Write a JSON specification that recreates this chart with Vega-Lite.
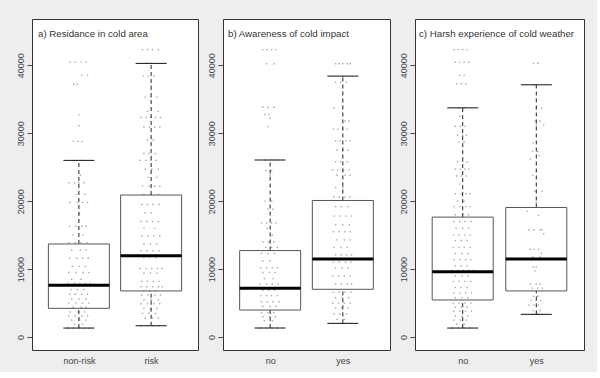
{
"$schema":"https://vega.github.io/schema/vega-lite/v6.json",
"background":"#eeeeee",
"padding":{"left":15,"top":18,"right":12,"bottom":6},
"spacing":7,
"config":{"font":"Liberation Sans","view":{"stroke":"#333333","strokeWidth":1,"fill":"white"},"axis":{"labelColor":"#444444","tickColor":"#444444","labelFont":"Liberation Sans"},"square":{"size":2,"color":"#9a9a9a","opacity":0.85},"tick":{"opacity":1},"rule":{"opacity":1}},
"datasets":{
"a1":[{"v":40460,"j":0.88},{"v":40460,"j":0.95},{"v":40460,"j":1.03},{"v":40460,"j":1.1},{"v":38500,"j":1.04},{"v":38500,"j":1.12},{"v":37200,"j":0.93},{"v":37200,"j":0.98},{"v":32700,"j":1.0},{"v":31100,"j":1.0},{"v":28800,"j":0.92},{"v":28800,"j":0.99},{"v":28800,"j":1.04},
{"v":26000,"j":0.93},{"v":26000,"j":1.03},{"v":23800,"j":1.02},{"v":22700,"j":0.86},{"v":22700,"j":0.94},{"v":22700,"j":1.0},{"v":22700,"j":1.07},{"v":21000,"j":0.96},{"v":21000,"j":1.08},{"v":19800,"j":0.88},{"v":19800,"j":0.98},{"v":19800,"j":1.05},{"v":19800,"j":1.12},{"v":18200,"j":1.01},{"v":16300,"j":0.87},{"v":16300,"j":0.96},{"v":16300,"j":1.04},{"v":16300,"j":1.1},{"v":15000,"j":0.92},{"v":15000,"j":1.06},{"v":13900,"j":0.86},{"v":13900,"j":0.95},{"v":13900,"j":1.03},{"v":13900,"j":1.11},
{"v":12800,"j":0.9},{"v":12800,"j":1.02},{"v":12800,"j":1.1},{"v":11600,"j":0.87},{"v":11600,"j":0.97},{"v":11600,"j":1.05},{"v":11600,"j":1.13},{"v":10400,"j":0.91},{"v":10400,"j":1.0},{"v":10400,"j":1.09},{"v":9500,"j":0.86},{"v":9500,"j":0.96},{"v":9500,"j":1.06},{"v":9500,"j":1.14},{"v":8500,"j":0.9},{"v":8500,"j":1.03},{"v":7900,"j":0.85},{"v":7900,"j":0.94},{"v":7900,"j":1.01},{"v":7900,"j":1.09},{"v":7900,"j":1.15},{"v":7000,"j":0.89},{"v":7000,"j":0.98},{"v":7000,"j":1.07},{"v":6300,"j":0.87},{"v":6300,"j":0.95},{"v":6300,"j":1.04},{"v":6300,"j":1.12},{"v":5600,"j":0.9},{"v":5600,"j":1.0},{"v":5600,"j":1.1},{"v":5000,"j":0.86},{"v":5000,"j":0.96},{"v":5000,"j":1.05},{"v":5000,"j":1.14},{"v":4400,"j":0.92},{"v":4400,"j":1.03},{"v":4400,"j":1.1},
{"v":3700,"j":0.88},{"v":3700,"j":0.99},{"v":3700,"j":1.08},{"v":3100,"j":0.86},{"v":3100,"j":0.95},{"v":3100,"j":1.04},{"v":3100,"j":1.12},{"v":2500,"j":0.9},{"v":2500,"j":1.01},{"v":2500,"j":1.1},{"v":1900,"j":0.94},{"v":1900,"j":1.05},{"v":1330,"j":0.85},{"v":1330,"j":0.93},{"v":1330,"j":1.0},{"v":1330,"j":1.08},{"v":1330,"j":1.15}],
"a2":[{"v":42300,"j":1.88},{"v":42300,"j":1.95},{"v":42300,"j":2.02},{"v":42300,"j":2.1},{"v":40270,"j":1.94},{"v":40270,"j":2.0},{"v":38400,"j":1.89},{"v":38400,"j":1.96},{"v":38400,"j":2.04},{"v":37000,"j":2.0},{"v":35300,"j":1.92},{"v":35300,"j":2.0},{"v":35300,"j":2.08},{"v":33200,"j":1.95},{"v":33200,"j":2.1},{"v":32300,"j":1.86},{"v":32300,"j":1.93},{"v":32300,"j":2.0},{"v":32300,"j":2.06},{"v":32300,"j":2.13},{"v":30900,"j":1.9},{"v":30900,"j":1.98},{"v":30900,"j":2.05},{"v":30900,"j":2.12},{"v":29000,"j":1.95},{"v":29000,"j":2.03},{"v":27000,"j":1.9},{"v":27000,"j":1.97},{"v":27000,"j":2.06},{"v":26000,"j":1.85},{"v":26000,"j":1.93},{"v":26000,"j":2.0},{"v":26000,"j":2.07},{"v":24700,"j":1.92},{"v":24700,"j":2.01},{"v":24700,"j":2.1},{"v":23500,"j":1.96},{"v":23500,"j":2.08},{"v":22200,"j":1.88},{"v":22200,"j":1.97},{"v":22200,"j":2.05},{"v":22200,"j":2.12},{"v":21000,"j":1.9},{"v":21000,"j":2.0},{"v":21000,"j":2.1},
{"v":19500,"j":1.87},{"v":19500,"j":1.95},{"v":19500,"j":2.03},{"v":19500,"j":2.11},{"v":18300,"j":1.92},{"v":18300,"j":2.0},{"v":17000,"j":1.86},{"v":17000,"j":1.94},{"v":17000,"j":2.02},{"v":17000,"j":2.1},{"v":16000,"j":1.9},{"v":16000,"j":2.05},{"v":14900,"j":1.87},{"v":14900,"j":1.96},{"v":14900,"j":2.04},{"v":14900,"j":2.12},{"v":13700,"j":1.9},{"v":13700,"j":1.99},{"v":13700,"j":2.08},{"v":12700,"j":1.86},{"v":12700,"j":1.94},{"v":12700,"j":2.03},{"v":12700,"j":2.11},{"v":11700,"j":1.9},{"v":11700,"j":1.98},{"v":11700,"j":2.07},{"v":10100,"j":1.85},{"v":10100,"j":1.93},{"v":10100,"j":2.01},{"v":10100,"j":2.09},{"v":10100,"j":2.15},{"v":9400,"j":1.9},{"v":9400,"j":1.99},{"v":9400,"j":2.08},{"v":8200,"j":1.87},{"v":8200,"j":1.95},{"v":8200,"j":2.03},{"v":8200,"j":2.11},{"v":7400,"j":1.86},{"v":7400,"j":1.94},{"v":7400,"j":2.02},{"v":7400,"j":2.1},{"v":7400,"j":2.15},{"v":6800,"j":1.9},{"v":6800,"j":1.98},{"v":6800,"j":2.06},
{"v":6200,"j":1.87},{"v":6200,"j":1.96},{"v":6200,"j":2.05},{"v":6200,"j":2.13},{"v":5500,"j":1.9},{"v":5500,"j":2.0},{"v":5500,"j":2.1},{"v":4900,"j":1.86},{"v":4900,"j":1.95},{"v":4900,"j":2.04},{"v":4900,"j":2.12},{"v":4200,"j":1.9},{"v":4200,"j":1.99},{"v":4200,"j":2.08},{"v":3500,"j":1.88},{"v":3500,"j":1.97},{"v":3500,"j":2.06},{"v":2800,"j":1.92},{"v":2800,"j":2.02},{"v":2800,"j":2.1},{"v":1670,"j":1.86},{"v":1670,"j":1.95},{"v":1670,"j":2.03},{"v":1670,"j":2.11}],
"b1":[{"v":42300,"j":0.9},{"v":42300,"j":0.96},{"v":42300,"j":1.02},{"v":42300,"j":1.08},{"v":40220,"j":0.95},{"v":40220,"j":1.05},{"v":33820,"j":0.9},{"v":33820,"j":0.97},{"v":33820,"j":1.05},{"v":32740,"j":0.93},{"v":32740,"j":0.98},{"v":32200,"j":1.0},{"v":30970,"j":0.97},{"v":26060,"j":0.93},{"v":26060,"j":1.0},{"v":26060,"j":1.05},{"v":26060,"j":1.1},{"v":24500,"j":0.94},{"v":24500,"j":1.02},{"v":23800,"j":1.0},{"v":20000,"j":0.93},{"v":20000,"j":1.02},{"v":18800,"j":0.97},{"v":18800,"j":1.04},{"v":16800,"j":0.88},{"v":16800,"j":0.95},{"v":16800,"j":1.02},{"v":16800,"j":1.08},{"v":16000,"j":0.96},{"v":15000,"j":1.03},{"v":14000,"j":0.9},{"v":14000,"j":0.98},{"v":14000,"j":1.05},{"v":13200,"j":0.94},{"v":13200,"j":1.02},{"v":13200,"j":1.1},
{"v":12300,"j":0.88},{"v":12300,"j":0.97},{"v":12300,"j":1.06},{"v":11200,"j":0.9},{"v":11200,"j":1.0},{"v":10200,"j":0.87},{"v":10200,"j":0.95},{"v":10200,"j":1.03},{"v":10200,"j":1.1},{"v":9500,"j":0.9},{"v":9500,"j":0.99},{"v":9500,"j":1.07},{"v":8600,"j":0.92},{"v":8600,"j":1.04},{"v":7800,"j":0.86},{"v":7800,"j":0.95},{"v":7800,"j":1.03},{"v":7800,"j":1.11},{"v":6900,"j":0.9},{"v":6900,"j":0.98},{"v":6900,"j":1.06},{"v":6100,"j":0.87},{"v":6100,"j":0.95},{"v":6100,"j":1.02},{"v":6100,"j":1.1},{"v":5200,"j":0.88},{"v":5200,"j":0.96},{"v":5200,"j":1.04},{"v":5200,"j":1.12},{"v":4500,"j":0.9},{"v":4500,"j":1.0},{"v":4500,"j":1.08},
{"v":3600,"j":0.88},{"v":3600,"j":0.97},{"v":3600,"j":1.05},{"v":3000,"j":0.9},{"v":3000,"j":0.99},{"v":3000,"j":1.07},{"v":2400,"j":0.92},{"v":2400,"j":1.03},{"v":1330,"j":0.87},{"v":1330,"j":0.95},{"v":1330,"j":1.03},{"v":1330,"j":1.1}],
"b2":[{"v":40220,"j":1.9},{"v":40220,"j":1.95},{"v":40220,"j":2.0},{"v":40220,"j":2.06},{"v":40220,"j":2.1},{"v":38400,"j":2.0},{"v":37500,"j":1.9},{"v":37500,"j":1.97},{"v":37500,"j":2.05},{"v":33700,"j":1.88},{"v":31800,"j":2.03},{"v":31800,"j":2.08},{"v":30600,"j":1.87},{"v":30600,"j":1.93},{"v":30600,"j":2.0},{"v":30600,"j":2.06},{"v":28900,"j":1.9},{"v":28900,"j":1.96},{"v":28900,"j":2.04},{"v":28900,"j":2.1},{"v":27500,"j":1.92},{"v":27500,"j":2.0},{"v":27500,"j":2.07},{"v":25800,"j":1.9},{"v":25800,"j":1.97},{"v":25800,"j":2.06},{"v":24600,"j":1.86},{"v":24600,"j":1.93},{"v":24600,"j":2.01},{"v":24600,"j":2.09},{"v":23800,"j":1.92},{"v":23800,"j":2.03},{"v":23800,"j":2.1},{"v":22000,"j":1.9},{"v":22000,"j":2.0},{"v":20600,"j":1.88},{"v":20600,"j":1.95},{"v":20600,"j":2.03},{"v":20600,"j":2.1},
{"v":19200,"j":1.9},{"v":19200,"j":1.98},{"v":19200,"j":2.07},{"v":17800,"j":1.88},{"v":17800,"j":1.96},{"v":17800,"j":2.04},{"v":17800,"j":2.12},{"v":16500,"j":1.9},{"v":16500,"j":2.0},{"v":16500,"j":2.09},{"v":15500,"j":1.87},{"v":15500,"j":1.95},{"v":15500,"j":2.03},{"v":15500,"j":2.1},{"v":14300,"j":1.92},{"v":14300,"j":2.02},{"v":14300,"j":2.1},{"v":13200,"j":1.88},{"v":13200,"j":1.97},{"v":13200,"j":2.06},{"v":12100,"j":1.9},{"v":12100,"j":1.98},{"v":12100,"j":2.05},{"v":12100,"j":2.12},{"v":11000,"j":1.87},{"v":11000,"j":1.95},{"v":11000,"j":2.04},{"v":11000,"j":2.11},{"v":10200,"j":1.9},{"v":10200,"j":1.99},{"v":10200,"j":2.07},{"v":9000,"j":1.86},{"v":9000,"j":1.94},{"v":9000,"j":2.02},{"v":9000,"j":2.1},{"v":7800,"j":1.9},{"v":7800,"j":1.98},{"v":7800,"j":2.06},{"v":7800,"j":2.12},
{"v":6600,"j":1.87},{"v":6600,"j":1.95},{"v":6600,"j":2.03},{"v":6600,"j":2.11},{"v":5800,"j":1.9},{"v":5800,"j":1.99},{"v":5800,"j":2.08},{"v":5000,"j":1.86},{"v":5000,"j":1.94},{"v":5000,"j":2.02},{"v":5000,"j":2.1},{"v":4300,"j":1.9},{"v":4300,"j":1.98},{"v":4300,"j":2.07},{"v":3400,"j":1.88},{"v":3400,"j":1.96},{"v":3400,"j":2.05},{"v":2600,"j":1.92},{"v":2600,"j":2.02},{"v":2020,"j":1.87},{"v":2020,"j":1.95},{"v":2020,"j":2.03},{"v":2020,"j":2.1}],
"c1":[{"v":42300,"j":0.88},{"v":42300,"j":0.94},{"v":42300,"j":1.0},{"v":42300,"j":1.06},{"v":40460,"j":0.9},{"v":40460,"j":0.96},{"v":40460,"j":1.02},{"v":40460,"j":1.08},{"v":38500,"j":0.96},{"v":38500,"j":1.02},{"v":37270,"j":0.92},{"v":37270,"j":0.98},{"v":37270,"j":1.04},{"v":33730,"j":0.95},{"v":33730,"j":1.02},{"v":32500,"j":0.96},{"v":31000,"j":0.9},{"v":31000,"j":0.97},{"v":31000,"j":1.03},{"v":29700,"j":0.93},{"v":29700,"j":1.0},{"v":29700,"j":1.05},{"v":28700,"j":0.95},{"v":28700,"j":1.02},{"v":25800,"j":0.93},{"v":25800,"j":1.0},{"v":25800,"j":1.06},{"v":24700,"j":0.9},{"v":24700,"j":0.97},{"v":24700,"j":1.03},{"v":24700,"j":1.08},{"v":23700,"j":0.92},{"v":23700,"j":0.98},{"v":23700,"j":1.05},{"v":22500,"j":0.96},{"v":21100,"j":0.9},{"v":21100,"j":0.98},{"v":21100,"j":1.05},{"v":21100,"j":1.1},{"v":20000,"j":0.93},{"v":20000,"j":1.02},{"v":19200,"j":0.88},{"v":19200,"j":0.96},{"v":19200,"j":1.04},{"v":19200,"j":1.1},{"v":18000,"j":0.9},{"v":18000,"j":1.0},{"v":18000,"j":1.08},
{"v":17000,"j":0.88},{"v":17000,"j":0.96},{"v":17000,"j":1.03},{"v":17000,"j":1.11},{"v":16000,"j":0.91},{"v":16000,"j":1.0},{"v":16000,"j":1.08},{"v":15000,"j":0.88},{"v":15000,"j":0.95},{"v":15000,"j":1.03},{"v":15000,"j":1.1},{"v":14200,"j":0.9},{"v":14200,"j":0.98},{"v":14200,"j":1.06},{"v":13200,"j":0.87},{"v":13200,"j":0.95},{"v":13200,"j":1.02},{"v":13200,"j":1.1},{"v":12300,"j":0.9},{"v":12300,"j":0.99},{"v":12300,"j":1.07},{"v":11400,"j":0.88},{"v":11400,"j":0.96},{"v":11400,"j":1.04},{"v":11400,"j":1.11},{"v":10500,"j":0.9},{"v":10500,"j":0.98},{"v":10500,"j":1.06},{"v":9800,"j":0.86},{"v":9800,"j":0.94},{"v":9800,"j":1.01},{"v":9800,"j":1.08},{"v":9800,"j":1.14},{"v":9000,"j":0.9},{"v":9000,"j":0.99},{"v":9000,"j":1.07},{"v":8200,"j":0.87},{"v":8200,"j":0.95},{"v":8200,"j":1.03},{"v":8200,"j":1.11},{"v":7300,"j":0.9},{"v":7300,"j":0.98},{"v":7300,"j":1.06},{"v":6500,"j":0.88},{"v":6500,"j":0.96},{"v":6500,"j":1.04},{"v":6500,"j":1.12},{"v":5800,"j":0.9},{"v":5800,"j":0.99},{"v":5800,"j":1.07},
{"v":5000,"j":0.87},{"v":5000,"j":0.95},{"v":5000,"j":1.03},{"v":5000,"j":1.11},{"v":4400,"j":0.9},{"v":4400,"j":0.98},{"v":4400,"j":1.06},{"v":3800,"j":0.88},{"v":3800,"j":0.96},{"v":3800,"j":1.04},{"v":3800,"j":1.12},{"v":3100,"j":0.9},{"v":3100,"j":0.99},{"v":3100,"j":1.07},{"v":2500,"j":0.88},{"v":2500,"j":0.97},{"v":2500,"j":1.05},{"v":1900,"j":0.92},{"v":1900,"j":1.02},{"v":1330,"j":0.86},{"v":1330,"j":0.94},{"v":1330,"j":1.02},{"v":1330,"j":1.1}],
"c2":[{"v":40300,"j":1.96},{"v":40300,"j":2.02},{"v":37120,"j":1.97},{"v":33700,"j":2.0},{"v":33700,"j":2.07},{"v":31800,"j":1.98},{"v":31800,"j":2.05},{"v":31200,"j":2.0},{"v":31200,"j":2.1},{"v":28600,"j":1.96},{"v":27300,"j":1.95},{"v":27300,"j":2.02},{"v":26700,"j":2.04},{"v":26200,"j":1.92},{"v":23800,"j":1.95},{"v":21500,"j":1.98},{"v":21500,"j":2.08},{"v":19800,"j":2.0},{"v":18500,"j":1.88},{"v":17900,"j":2.03},{"v":15800,"j":1.9},{"v":15800,"j":1.97},{"v":15800,"j":2.05},{"v":15800,"j":2.08},{"v":15200,"j":2.1},{"v":12900,"j":1.92},{"v":12900,"j":1.97},{"v":12900,"j":2.03},{"v":12300,"j":2.07},{"v":11800,"j":1.95},{"v":11800,"j":2.05},{"v":10300,"j":1.96},{"v":10300,"j":2.0},{"v":9700,"j":1.98},{"v":7800,"j":1.92},{"v":7800,"j":2.0},{"v":7800,"j":2.05},{"v":7200,"j":1.94},{"v":7200,"j":2.02},{"v":7200,"j":2.08},{"v":6000,"j":1.96},{"v":6000,"j":2.02},{"v":5400,"j":1.93},{"v":5400,"j":2.0},{"v":5400,"j":2.06},{"v":4700,"j":1.9},{"v":4700,"j":1.97},{"v":4700,"j":2.03},{"v":3900,"j":1.96},{"v":3900,"j":2.05},{"v":3350,"j":1.95},{"v":3350,"j":2.02},{"v":3350,"j":2.07}],
"abox":[{"x":1,"lw":1330,"q1":4230,"med":7620,"q3":13700,"uw":26000},{"x":2,"lw":1670,"q1":6790,"med":11950,"q3":20900,"uw":40270}],
"bbox":[{"x":1,"lw":1330,"q1":3980,"med":7180,"q3":12730,"uw":26060},{"x":2,"lw":2020,"q1":7030,"med":11500,"q3":20100,"uw":38400}],
"cbox":[{"x":1,"lw":1330,"q1":5460,"med":9630,"q3":17650,"uw":33730},{"x":2,"lw":3350,"q1":6790,"med":11500,"q3":19070,"uw":37120}]
},
"hconcat":[
{"width":166,"height":331,
"title":{"text":"a) Residance in cold area","anchor":"start","frame":"group","offset":-20,"dx":6,"fontSize":9.7,"fontWeight":"normal","color":"#333333","font":"Liberation Sans"},
"layer":[
{"data":{"name":"a1"},"mark":{"type":"square"},
"encoding":{"x":{"field":"j","type":"quantitative","scale":{"domain":[0.42,2.58],"nice":false,"zero":false},"axis":{"values":[1,2],"labelExpr":"datum.value==1?'non-risk':'risk'","ticks":false,"domain":false,"grid":false,"title":null,"labelFontSize":9,"labelPadding":6}},
"y":{"field":"v","type":"quantitative","scale":{"domain":[-1900,46800],"nice":false,"zero":false},"axis":{"values":[0,10000,20000,30000,40000],"format":"d","labelAngle":-90,"grid":false,"domain":false,"tickSize":5,"title":null,"labelFontSize":9,"labelPadding":2,"labelOverlap":false}}}},
{"data":{"name":"a2"},"mark":{"type":"square"},
"encoding":{"x":{"field":"j","type":"quantitative"},"y":{"field":"v","type":"quantitative"}}},
{"data":{"name":"abox"},"mark":{"type":"rule","strokeDash":[4,3],"color":"#222222","strokeWidth":1},"encoding":{"x":{"field":"x","type":"quantitative"},"y":{"field":"q3","type":"quantitative"},"y2":{"field":"uw"}}},
{"data":{"name":"abox"},"mark":{"type":"rule","strokeDash":[4,3],"color":"#222222","strokeWidth":1},"encoding":{"x":{"field":"x","type":"quantitative"},"y":{"field":"lw","type":"quantitative"},"y2":{"field":"q1"}}},
{"data":{"name":"abox"},"mark":{"type":"bar","size":61,"fill":"transparent","stroke":"#555555","strokeWidth":1},"encoding":{"x":{"field":"x","type":"quantitative"},"y":{"field":"q1","type":"quantitative"},"y2":{"field":"q3"}}},
{"data":{"name":"abox"},"mark":{"type":"tick","orient":"horizontal","size":61,"thickness":3,"color":"#000000"},"encoding":{"x":{"field":"x","type":"quantitative"},"y":{"field":"med","type":"quantitative"}}},
{"data":{"name":"abox"},"mark":{"type":"tick","orient":"horizontal","size":31,"thickness":1,"color":"#111111"},"encoding":{"x":{"field":"x","type":"quantitative"},"y":{"field":"uw","type":"quantitative"}}},
{"data":{"name":"abox"},"mark":{"type":"tick","orient":"horizontal","size":31,"thickness":1,"color":"#111111"},"encoding":{"x":{"field":"x","type":"quantitative"},"y":{"field":"lw","type":"quantitative"}}}
]},
{"width":167,"height":331,
"title":{"text":"b) Awareness of cold impact","anchor":"start","frame":"group","offset":-20,"dx":5,"fontSize":9.7,"fontWeight":"normal","color":"#333333","font":"Liberation Sans"},
"layer":[
{"data":{"name":"b1"},"mark":{"type":"square"},
"encoding":{"x":{"field":"j","type":"quantitative","scale":{"domain":[0.42,2.58],"nice":false,"zero":false},"axis":{"values":[1,2],"labelExpr":"datum.value==1?'no':'yes'","ticks":false,"domain":false,"grid":false,"title":null,"labelFontSize":9,"labelPadding":6}},
"y":{"field":"v","type":"quantitative","scale":{"domain":[-1900,46800],"nice":false,"zero":false},"axis":{"values":[0,10000,20000,30000,40000],"format":"d","labelAngle":-90,"grid":false,"domain":false,"tickSize":5,"title":null,"labelFontSize":9,"labelPadding":2,"labelOverlap":false}}}},
{"data":{"name":"b2"},"mark":{"type":"square"},
"encoding":{"x":{"field":"j","type":"quantitative"},"y":{"field":"v","type":"quantitative"}}},
{"data":{"name":"bbox"},"mark":{"type":"rule","strokeDash":[4,3],"color":"#222222","strokeWidth":1},"encoding":{"x":{"field":"x","type":"quantitative"},"y":{"field":"q3","type":"quantitative"},"y2":{"field":"uw"}}},
{"data":{"name":"bbox"},"mark":{"type":"rule","strokeDash":[4,3],"color":"#222222","strokeWidth":1},"encoding":{"x":{"field":"x","type":"quantitative"},"y":{"field":"lw","type":"quantitative"},"y2":{"field":"q1"}}},
{"data":{"name":"bbox"},"mark":{"type":"bar","size":61,"fill":"transparent","stroke":"#555555","strokeWidth":1},"encoding":{"x":{"field":"x","type":"quantitative"},"y":{"field":"q1","type":"quantitative"},"y2":{"field":"q3"}}},
{"data":{"name":"bbox"},"mark":{"type":"tick","orient":"horizontal","size":61,"thickness":3,"color":"#000000"},"encoding":{"x":{"field":"x","type":"quantitative"},"y":{"field":"med","type":"quantitative"}}},
{"data":{"name":"bbox"},"mark":{"type":"tick","orient":"horizontal","size":31,"thickness":1,"color":"#111111"},"encoding":{"x":{"field":"x","type":"quantitative"},"y":{"field":"uw","type":"quantitative"}}},
{"data":{"name":"bbox"},"mark":{"type":"tick","orient":"horizontal","size":31,"thickness":1,"color":"#111111"},"encoding":{"x":{"field":"x","type":"quantitative"},"y":{"field":"lw","type":"quantitative"}}}
]},
{"width":169,"height":331,
"title":{"text":"c) Harsh experience of cold weather","anchor":"start","frame":"group","offset":-20,"dx":4,"fontSize":9.7,"fontWeight":"normal","color":"#333333","font":"Liberation Sans"},
"layer":[
{"data":{"name":"c1"},"mark":{"type":"square"},
"encoding":{"x":{"field":"j","type":"quantitative","scale":{"domain":[0.42,2.58],"nice":false,"zero":false},"axis":{"values":[1,2],"labelExpr":"datum.value==1?'no':'yes'","ticks":false,"domain":false,"grid":false,"title":null,"labelFontSize":9,"labelPadding":6}},
"y":{"field":"v","type":"quantitative","scale":{"domain":[-1900,46800],"nice":false,"zero":false},"axis":{"values":[0,10000,20000,30000,40000],"format":"d","labelAngle":-90,"grid":false,"domain":false,"tickSize":5,"title":null,"labelFontSize":9,"labelPadding":2,"labelOverlap":false}}}},
{"data":{"name":"c2"},"mark":{"type":"square"},
"encoding":{"x":{"field":"j","type":"quantitative"},"y":{"field":"v","type":"quantitative"}}},
{"data":{"name":"cbox"},"mark":{"type":"rule","strokeDash":[4,3],"color":"#222222","strokeWidth":1},"encoding":{"x":{"field":"x","type":"quantitative"},"y":{"field":"q3","type":"quantitative"},"y2":{"field":"uw"}}},
{"data":{"name":"cbox"},"mark":{"type":"rule","strokeDash":[4,3],"color":"#222222","strokeWidth":1},"encoding":{"x":{"field":"x","type":"quantitative"},"y":{"field":"lw","type":"quantitative"},"y2":{"field":"q1"}}},
{"data":{"name":"cbox"},"mark":{"type":"bar","size":61,"fill":"transparent","stroke":"#555555","strokeWidth":1},"encoding":{"x":{"field":"x","type":"quantitative"},"y":{"field":"q1","type":"quantitative"},"y2":{"field":"q3"}}},
{"data":{"name":"cbox"},"mark":{"type":"tick","orient":"horizontal","size":61,"thickness":3,"color":"#000000"},"encoding":{"x":{"field":"x","type":"quantitative"},"y":{"field":"med","type":"quantitative"}}},
{"data":{"name":"cbox"},"mark":{"type":"tick","orient":"horizontal","size":31,"thickness":1,"color":"#111111"},"encoding":{"x":{"field":"x","type":"quantitative"},"y":{"field":"uw","type":"quantitative"}}},
{"data":{"name":"cbox"},"mark":{"type":"tick","orient":"horizontal","size":31,"thickness":1,"color":"#111111"},"encoding":{"x":{"field":"x","type":"quantitative"},"y":{"field":"lw","type":"quantitative"}}}
]}
]
}
